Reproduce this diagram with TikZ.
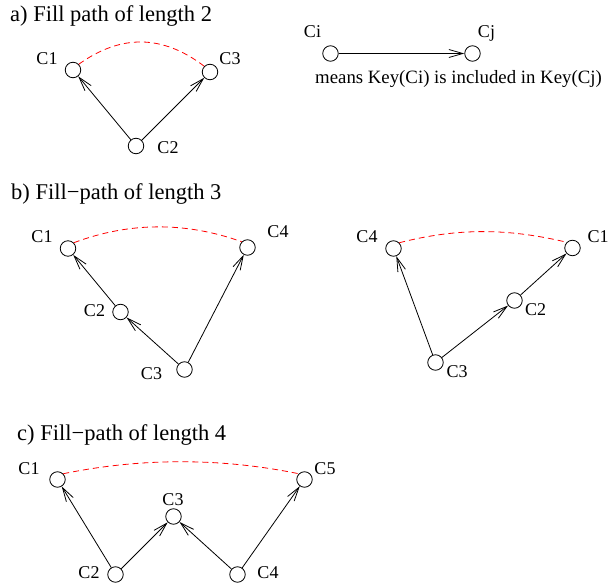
\documentclass[tikz,border=0pt]{standalone}
\usepackage{fontspec}
\setmainfont{Liberation Serif}
\usetikzlibrary{arrows.meta}
\begin{document}
\begin{tikzpicture}[x=1pt,y=-1pt,
  vtx/.style={circle,draw,line width=0.8pt,minimum size=15.5pt,inner sep=0pt},
  lbl/.style={anchor=base,inner sep=0pt,font=\fontsize{18}{21}\selectfont},
  ttl/.style={anchor=base west,inner sep=0pt,font=\fontsize{22.5}{27}\selectfont},
  incl/.style={line width=0.8pt,-{Straight Barb[length=14pt,width=8pt,line width=0.8pt]}},
  fill path/.style={red,line width=0.8pt,dash pattern=on 6pt off 4pt}]
\useasboundingbox (0,0) rectangle (614,588);

% ---- a) length 2
\node[ttl] (ta) at (10,22) {a) Fill path of length 2};
\node[vtx] (a1) at (73,70) {};
\node[vtx] (a3) at (210,72) {};
\node[vtx] (a2) at (136,146) {};
\node[lbl] (la1) at (47,65) {C1};
\node[lbl] (la3) at (230,65) {C3};
\node[lbl] (la2) at (168,154) {C2};
\draw[incl] (a2) -- (a1);
\draw[incl] (a2) -- (a3);
\draw[fill path] (a1.north east) .. controls +(42,-30) and +(-42,-32) .. (a3.north west);

% ---- legend
\node[vtx] (ci) at (330.5,53.5) {};
\node[vtx] (cj) at (472.5,53.5) {};
\node[lbl] (lci) at (312.5,38) {Ci};
\node[lbl] (lcj) at (486.5,38) {Cj};
\draw[incl] (ci) -- (cj);
\node[lbl,font=\fontsize{18.8}{22}\selectfont] (means) at (458.5,84) {means Key(Ci) is included in Key(Cj)};

% ---- b) length 3
\node[ttl] (tb) at (11,200) {b) Fill\textminus path of length 3};
% left variant
\node[vtx] (b1) at (68,248.5) {};
\node[vtx] (b4) at (247.5,247.5) {};
\node[vtx] (b2) at (120.5,312) {};
\node[vtx] (b3) at (184.5,369.5) {};
\node[lbl] (lb1) at (42,243) {C1};
\node[lbl] (lb4) at (278,238) {C4};
\node[lbl] (lb2) at (94.5,317) {C2};
\node[lbl] (lb3) at (151.5,380) {C3};
\draw[incl] (b3) -- (b2);
\draw[incl] (b2) -- (b1);
\draw[incl] (b3) -- (b4);
\draw[fill path] (b1.north east) .. controls +(56,-21) and +(-56,-20) .. (b4.north west);
% right variant
\node[vtx] (r4) at (393.5,248.5) {};
\node[vtx] (r1) at (572.5,248) {};
\node[vtx] (r2) at (514.5,300.5) {};
\node[vtx] (r3) at (435.5,362.5) {};
\node[lbl] (lr4) at (367,243) {C4};
\node[lbl] (lr1) at (598,243) {C1};
\node[lbl] (lr2) at (535.5,316) {C2};
\node[lbl] (lr3) at (457,378) {C3};
\draw[incl] (r3) -- (r4);
\draw[incl] (r3) -- (r2);
\draw[incl] (r2) -- (r1);
\draw[fill path] (r4.north east) .. controls +(59,-15) and +(-59,-14) .. (r1.north west);

% ---- c) length 4
\node[ttl] (tc) at (17,440) {c) Fill\textminus path of length 4};
\node[vtx] (c1) at (57.5,479.5) {};
\node[vtx] (c5) at (304.5,479.5) {};
\node[vtx] (c3) at (173.5,516.5) {};
\node[vtx] (c2) at (115.5,574.5) {};
\node[vtx] (c4) at (237.5,574.5) {};
\node[lbl] (lc1) at (29,475) {C1};
\node[lbl] (lc5) at (325,475) {C5};
\node[lbl] (lc3) at (173,505) {C3};
\node[lbl] (lc2) at (89,578) {C2};
\node[lbl] (lc4) at (268,578) {C4};
\draw[incl] (c2) -- (c1);
\draw[incl] (c2) -- (c3);
\draw[incl] (c4) -- (c3);
\draw[incl] (c4) -- (c5);
\draw[fill path] (c1.north east) .. controls +(78,-16) and +(-78,-16) .. (c5.north west);
\end{tikzpicture}
\end{document}
